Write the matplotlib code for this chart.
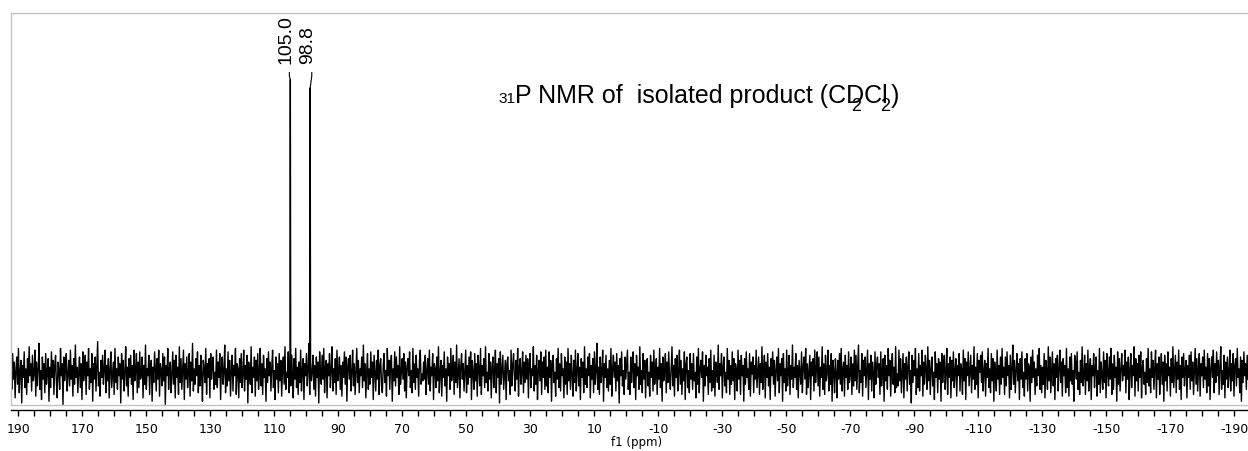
import matplotlib
matplotlib.use("Agg")
import matplotlib.pyplot as plt
import numpy as np
from matplotlib.ticker import MultipleLocator, FixedLocator

plt.rcParams['axes.unicode_minus'] = False

# spectral window (ppm) and baseline noise (arbitrary intensity units)
window_start = 192.3
window_end = -194.3
noise = [
    4, -9, 12, -3, 7, -14, 2, 10, -6, 15, -11, 1, 8, -17, 5, -2, 13, -8, 3, -12, 9, -5, 16, -1, 6,
    -10, 11, -4, 0, 14, -13, 7, -7, 3, 18, -9, 2, -15, 10, -3, 6, -11, 12, -6, 1, 9, -16, 4, -8, 13,
    -2, 8, -12, 5, 11, -5, -14, 7, 2, -9, 15, -1, 6, -18, 10, -4, 3, 12, -10, 0, 8, -7, 14, -3, 5,
    -13, 9, -6, 17, -2, 4, -11, 1, 10, -8, 6, -15, 13, -4, 2, 11, -12, 7, -1, 15, -9, 3, -5, 12, -16,
    6, -3, 10, -10, 4, 19, -7, 1, -13, 8, -2, 11, -6, 3, 14, -11, 5, -4, 9, -14, 2, 13, -8, 0, 7,
    -12, 15, -5, 3, -9, 10, -1, 6, -17, 12, -3, 8, -10, 1, 16, -7, 4, -13, 9, -2, 11, -6, 5, -15, 14,
    -4, 2, 12, -11, 7, -8, 13, -3, 0, 10, -14, 5, -6, 17, -9, 3, -1, 11, -12, 6, 8, -16, 4, -5, 13,
    1, -10, 9, -3, 14, -13, 6, 2, -7, 12, -4, 10, -18, 5, -1, 15, -9, 3, 7, -11, 0, 13, -6, 8, -14,
    11, -2, 4, -12, 16, -5, 9, -9, 2, 14, -15, 6, -3, 10, -8, 1, 12, -13, 7, -4, 18, -10, 3, -6, 9,
    -1, 13, -11, 5, -7, 11, 0, -16, 8, 3, -5, 15, -12, 6, -2, 9, -14, 12, -3, 4, 10, -9, 1, -6, 14,
    -8, 7, -2, 12, -15, 4, 10, -6, 1, 17, -11, 3, -7, 13, -4, 8, -13, 2, 11, -10, 5, -1, 15, -12, 6,
    3, -14, 9, -5, 12, -8, 0, 14, -10, 5, -3, 11, -17, 7, 2, -6, 16, -11, 4, -2, 10, -13, 8, -4, 12,
    -9, 1, 15, -7, 6, -12, 11, -2, 3, -16, 9, -5, 13, -1, 7, -10, 4, 14, -8, 2, -15, 10, -3, 6, -11,
    12, -4, 8, -13, 3, 10, -6, 16, -9, 1, -2, 13, -11, 5, -7, 11, 0, -14, 9, -3, 15, -8, 4, -12, 7,
    -5, 14, -10, 2, 9, -15, 6, -1, 12, -7, 3, 18, -12, 8, -4, 1, 11, -9, 5, -13, 10, -2, 7, -17, 13,
    0, -6, 11, -3, 15, -11, 4, 8, -14, 6, -1, 12, -8, 2, 16, -10, 3, -5, 9, -12, 14, -4, 1, 10, -9,
    5, -13, 7, -2, 13, -6, 10, -16, 4, 9, -3, 11, -10, 1, 14, -7, 6, -12, 2, 15, -5, 8, -11, 3, -1,
    10, -8, 17, -4, 6, -14, 1, 12, -9, 3, -6, 13, -2, 7, -15, 11, 0, -10, 8, -3, 14, -12, 5, 9, -7,
    -11, 4, 12, -5, 2, -13, 15, -1, 8, -9, 6, 11, -16, 3, -4, 13, -7, 10, -2, 5, -12, 16, -6, 1, 9,
    -3, 12, -10, 7, -14, 4, 9, -1, 13, -8, 2, -11, 15, -5, 6, -9, 11, -2, 3, -13, 8, 14, -6, 0, -4,
    7, -3, 11, -12, 2, 9, -6, 14, -10, 4, -1, 12, -15, 6, 3, -8, 10, -4, 16, -11, 1, 8, -13, 5, -2,
    13, -7, 3, -16, 10, -1, 6, -9, 15, -4, 2, 11, -12, 7, -5, 17, -8, 0, 9, -14, 4, 12, -3, 6, -10,
    2, 14, -11, 5, -6, 10, -2, 13, -15, 8, 1, -9, 12, -4, 6, -13, 11, 3, -7, 15, -12, 5, -1, 9, -8,
    16, -5, 1, -10, 12, -3, 7, -14, 4, 10, -8, 2, 14, -11, 6, -2, 9, -17, 13, -6, 3, 11, -9, 0, 8,
    -15, 6, 10, -4, 2, -12, 14, -7, 5, 12, -1, -10, 8, -3, 15, -13, 4, 9, -6, 1, 13, -11, 7, -5, 11,
    -3, 9, -14, 6, 12, -8, 3, -1, 16, -10, 5, -6, 11, -15, 2, 8, -4, 13, -12, 7, -2, 10, -9, 14, -7,
    4, -11, 13, -2, 8, -16, 5, 11, -5, 1, -13, 9, -3, 15, -8, 6, -10, 12, -1, 3, -14, 10, -6, 7, -12,
    15, -4, 6, -9, 11, 0, -13, 8, -5, 14, -10, 2, 12, -7, 4, -15, 9, -2, 7, -11, 16, -6, 3, -8, 10,
    -1, 12, -14, 5, -3, 9, -11, 13, -6, 2, 18, -9, 4, -12, 10, -5, 1, 14, -16, 6, -2, 11, -8, 3, -10,
    8, -6, 15, -13, 3, 11, -2, 7, -10, 12, -4, 5, -17, 9, -1, 13, -7, 2, -12, 10, -3, 6, 14, -9, 1,
    -12, 10, -5, 3, 13, -8, 6, -15, 11, -1, 4, -9, 16, -6, 2, -11, 12, -3, 8, -14, 5, 9, -7, 1, -13,
    11, -2, 7, -10, 14, -6, 1, 9, -12, 4, -3, 15, -8, 6, -16, 10, -4, 2, 12, -11, 7, -5, 13, -1, -9,
    3, 16, -7, 5, -13, 9, -2, 11, -10, 1, 14, -6, 8, -12, 3, -4, 13, -15, 6, 10, -8, 2, -11, 12, -3,
    6, -9, 12, -4, 1, -14, 10, -6, 15, -11, 3, 8, -2, 13, -16, 5, -7, 11, -1, 4, -12, 9, -5, 14, -10,
    2, -8, 11, -13, 7, 3, -5, 17, -9, 6, -1, 12, -14, 4, 10, -7, 1, -11, 15, -3, 8, -12, 5, -6, 13,
    -4, 9, -15, 6, 2, -10, 14, -3, 8, -12, 11, -1, 5, -16, 9, -6, 13, -2, 3, -9, 12, -13, 7, 0, 10,
    -11, 5, -3, 14, -8, 1, 10, -12, 6, -5, 16, -9, 3, 11, -14, 7, -2, 12, -7, 4, -15, 9, -1, 13, -6,
    8, -13, 2, 10, -4, 15, -11, 6, -1, 9, -16, 12, -5, 3, -10, 14, -7, 1, 11, -12, 5, -3, 17, -8, 4,
    -2, 12, -9, 5, -14, 8, 1, -6, 13, -11, 4, 10, -3, 15, -12, 6, -8, 2, 11, -15, 7, -1, 9, -10, 14,
    -5, 3, 13, -7, 10, -13, 4, -2, 16, -9, 6, -12, 11, -4, 1, 14, -10, 5, -6, 12, -16, 8, 2, -11, 9,
    1, -14, 8, -3, 12, -6, 15, -10, 3, 7, -13, 11, -2, 5, -9, 13, -5, 0, 10, -12, 6, -7, 14, -4, 11,
    -9, 4, 17, -11, 2, -5, 12, -13, 8, -1, 10, -8, 3, 14, -15, 6, -3, 11, -10, 7, 1, -14, 13, -6, 5,
    10, -2, 6, -12, 13, -7, 2, 9, -16, 11, -4, 5, -9, 15, -1, 8, -13, 3, 12, -6, 4, -11, 16, -8, 0,
    -7, 14, -4, 9, -11, 1, 12, -14, 6, -3, 10, -10, 4, 13, -6, 2, -17, 11, -5, 8, -1, 15, -12, 3, -8,
    12, -10, 5, -1, 14, -13, 7, -6, 11, 2, -9, 16, -4, 8, -12, 3, 10, -7, 1, -15, 13, -2, 6, -11, 9,
    -3, 7, -16, 12, -5, 4, 11, -9, 1, 15, -12, 6, -2, 10, -14, 8, -4, 13, -8, 2, 9, -13, 5, -1, 12,
    -10, 6, 3, -12, 14, -4, 9, -15, 7, -1, 13, -7, 2, 11, -11, 5, -3, 16, -9, 4, -6, 12, -14, 8, 1,
    11, -5, 13, -10, 2, 8, -13, 6, -2, 15, -8, 3, -11, 12, -4, 9, -16, 7, 1, -10, 14, -3, 5, -12, 10,
    -6, 15, -2, 4, -12, 10, -7, 13, -1, 5, -14, 11, -9, 3, 17, -6, 8, -11, 2, 12, -4, 6, -15, 9, -3,
    13, -8, 1, -13, 9, -3, 12, -10, 6, 4, -16, 10, -5, 14, -2, 7, -12, 3, -7, 11, -1, 15, -9, 5, -11,
    4, -6, 12, -14, 8, 2, -9, 16, -4, 10, -11, 1, 13, -7, 6, -15, 9, -2, 11, -10, 3, 14, -5, 7, -13,
    9, -1, 5, -11, 15, -8, 3, -13, 10, -4, 12, -6, 2, -16, 11, 7, -3, 13, -9, 1, -12, 8, -5, 16, -7,
    -2, 11, -12, 6, -4, 14, -10, 3, 9, -15, 5, -1, 12, -8, 4, 10, -13, 2, -6, 15, -11, 7, 0, -9, 13,
    -5, 8, -14, 12, 1, -7, 10, -3, 15, -12, 6, -9, 11, -2, 4, -16, 13, -6, 9, -10, 3, 12, -4, 5, -1,
    14, -11, 7, -3, 10, -15, 2, 12, -8, 5, -1, 16, -13, 9, -4, 6, -10, 11, -2, 13, -14, 4, 8, -6, 1,
    -12, 9, -5, 15, -7, 3, -11, 13, -2, 8, -9, 4, 14, -14, 6, -3, 10, -12, 1, 12, -6, 7, -16, 11, -4,
    6, -10, 13, -1, 4, -13, 9, -5, 16, -8, 2, 11, -11, 7, -3, 14, -9, 5, -15, 10, -2, 12, -7, 3, 8,
    -14, 5, -2, 11, -9, 13, -4, 7, -12, 1, 15, -6, 9, -10, 3, 12, -13, 6, -1, 10, -8, 14, -3, 4, -11,
    12, -7, 9, -15, 3, 10, -2, 14, -11, 6, -5, 13, -1, 8, -12, 4, 16, -9, 2, -6, 11, -14, 7, -3, 10,
    -8, 1, 14, -10, 6, -4, 12, -13, 5, 9, -7, 15, -2, 3, -11, 10, -16, 8, -5, 13, -1, 6, -9, 11, -3,
]

peak_ppm = [105.0, 98.8]
peak_height = [173, 168]
peak_labels = ['105.0', '98.8']
label_ppm = [106.3, 99.6]
leader_ppm = [105.3, 98.3]

major_ticks = [190, 170, 150, 130, 110, 90, 70, 50, 30, 10,
               -10, -30, -50, -70, -90, -110, -130, -150, -170, -190]

W, H = 1248, 451
fig = plt.figure(figsize=(W / 100, H / 100), dpi=100)
ax = fig.add_axes([11 / W, (H - 405) / H, (W - 11) / W, 392 / H])

# spectrum trace: noise grid with the two sharp lines merged in
ppm = np.linspace(window_start, window_end, len(noise))
x = np.concatenate([ppm, peak_ppm])
y = np.concatenate([noise, peak_height])
order = np.argsort(-x)
ax.plot(x[order], y[order], color='black', lw=1.0)

ax.set_xlim(window_start, window_end)
ax.set_ylim(-18.2, 212)

# peak labels with short leader lines
for p, h, lab, lp, ld in zip(peak_ppm, peak_height, peak_labels, label_ppm, leader_ppm):
    ax.text(lp, 182, lab, rotation=90, ha='center', va='bottom', fontsize=14,
            family='Liberation Sans', color='black')
    ax.plot([ld, ld, p], [177, 175, h], color='black', lw=0.8)

# frame: light grey box, black ppm axis slightly below
for s in ['top', 'left']:
    ax.spines[s].set_color('#c4c4c4')
    ax.spines[s].set_linewidth(1.0)
ax.spines['right'].set_visible(False)
ax.spines['bottom'].set_position(('outward', 3.6))
ax.spines['bottom'].set_color('black')
ax.spines['bottom'].set_linewidth(1.0)
ax.plot([0, 1], [0, 0], transform=ax.transAxes, color='#c4c4c4', lw=1.0, clip_on=False)

ax.xaxis.set_major_locator(FixedLocator(major_ticks))
ax.xaxis.set_minor_locator(MultipleLocator(5))
ax.tick_params(axis='x', which='both', direction='out', length=4.3, width=1.0, color='black')
ax.tick_params(axis='x', which='major', labelsize=9, pad=5)
ax.set_yticks([])
for t in ax.get_xticklabels():
    t.set_family('DejaVu Sans')
ax.set_xlabel('f1 (ppm)', fontsize=8.5, family='DejaVu Sans')
ax.xaxis.set_label_coords(0.506, -0.078)

# title-like annotation (subscripts overlap as in the original export)
tfont = dict(family='Liberation Sans', va='baseline', ha='left', color='black')
fig.text(498 / W, 1 - 103 / H, '31', fontsize=11, **tfont)
fig.text(515 / W, 1 - 103 / H, 'P NMR of  isolated product (CDCl', fontsize=18, **tfont)
fig.text(891 / W, 1 - 103 / H, ')', fontsize=18, **tfont)
fig.text(851 / W, 1 - 111 / H, '2', fontsize=13, **tfont)
fig.text(880 / W, 1 - 111 / H, '2', fontsize=13, **tfont)

fig.savefig('out.png', dpi=100)
